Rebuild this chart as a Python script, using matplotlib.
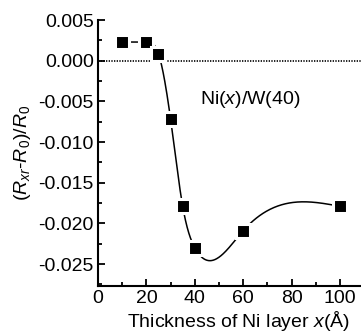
import numpy as np
import matplotlib
matplotlib.use("Agg")
import matplotlib.pyplot as plt
from matplotlib.ticker import MultipleLocator, FormatStrFormatter

plt.rcParams['font.family'] = ['Liberation Sans', 'DejaVu Sans']
plt.rcParams['mathtext.fontset'] = 'custom'
plt.rcParams['mathtext.rm'] = 'Liberation Sans'
plt.rcParams['mathtext.it'] = 'Liberation Sans:italic'

# data
thickness = [10, 20, 25, 30, 35, 40, 60, 100]
ratio = [0.0023, 0.0023, 0.00085, -0.0072, -0.0179, -0.0230, -0.0209, -0.0179]
x_ticks = [0, 20, 40, 60, 80, 100]
y_ticks = [0.005, 0.000, -0.005, -0.010, -0.015, -0.020, -0.025]


def natural_spline(x, y, xs):
    x = np.asarray(x, float); y = np.asarray(y, float)
    n = len(x)
    h = np.diff(x)
    A = np.zeros((n, n)); b = np.zeros(n)
    A[0, 0] = A[-1, -1] = 1
    for i in range(1, n - 1):
        A[i, i - 1] = h[i - 1]
        A[i, i] = 2 * (h[i - 1] + h[i])
        A[i, i + 1] = h[i]
        b[i] = 3 * ((y[i + 1] - y[i]) / h[i] - (y[i] - y[i - 1]) / h[i - 1])
    c = np.linalg.solve(A, b)
    out = np.empty_like(xs)
    for k, xv in enumerate(xs):
        i = min(max(np.searchsorted(x, xv) - 1, 0), n - 2)
        dx = xv - x[i]
        bi = (y[i + 1] - y[i]) / h[i] - h[i] * (2 * c[i] + c[i + 1]) / 3
        di = (c[i + 1] - c[i]) / (3 * h[i])
        out[k] = y[i] + bi * dx + c[i] * dx ** 2 + di * dx ** 3
    return out


fig = plt.figure(figsize=(3.61, 3.34), dpi=100)
ax = fig.add_axes([0.2715, 0.1437, 0.7285, 0.7963])

xs = np.linspace(thickness[0], thickness[-1], 400)
ax.plot(xs, natural_spline(thickness, ratio, xs), color='black', lw=1.1, zorder=2)
ax.axhline(0, color='black', lw=1.2, ls=(0, (0.8, 0.8)), zorder=1)
ax.plot(thickness, ratio, ls='none', marker='s', ms=10, mfc='black',
        mec='white', mew=2.2, zorder=3)

ax.set_xlim(0, 108.7)
ax.set_ylim(-0.0277, 0.005)
ax.set_xticks(x_ticks)
ax.set_yticks(y_ticks)
ax.xaxis.set_minor_locator(MultipleLocator(10))
ax.yaxis.set_minor_locator(MultipleLocator(0.0025))
ax.yaxis.set_major_formatter(FormatStrFormatter('%.3f'))

for s in ['top', 'right']:
    ax.spines[s].set_visible(False)
for s in ['left', 'bottom']:
    ax.spines[s].set_linewidth(1.5)

ax.tick_params(which='both', direction='in', width=1.3, labelsize=14)
ax.tick_params(which='major', length=5, pad=3)
ax.tick_params(which='minor', length=3)

ax.text(42, -0.0053, r'Ni($\it{x}$)/W(40)', fontsize=14)
ax.set_xlabel(r'Thickness of Ni layer $\it{x}$(Å)', fontsize=14, labelpad=1,
              x=0.535)
ax.set_ylabel(r'$(R_{xr}$-$R_0)/R_0$', fontsize=14, labelpad=4)

fig.savefig('out.png', dpi=100)
